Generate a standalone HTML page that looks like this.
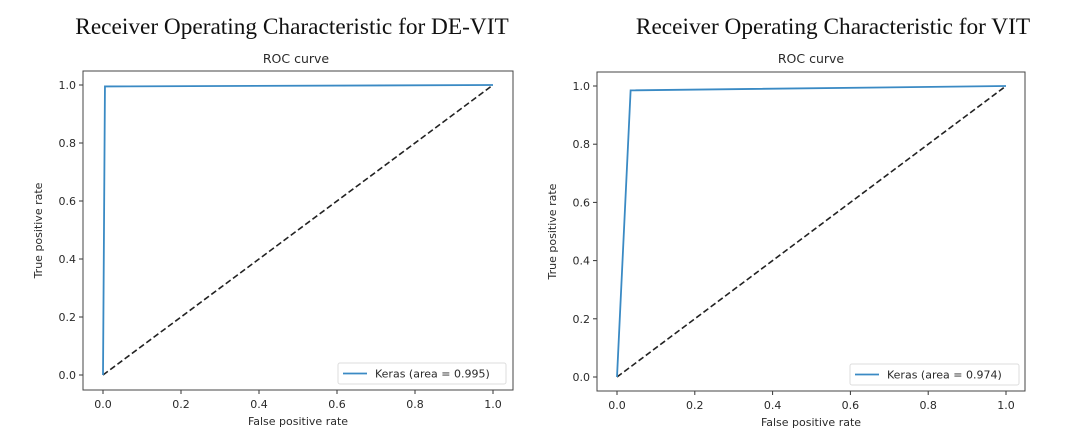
<!DOCTYPE html>
<html><head><meta charset="utf-8"><style>
body{margin:0;background:#fff;width:1080px;height:441px;overflow:hidden}
svg{display:block}
.tk{font-family:"DejaVu Sans",sans-serif;font-size:11px;fill:#2a2a2a}
.ttl{font-family:"Liberation Serif",serif;font-size:23.3px;fill:#111}
.sub{font-family:"DejaVu Sans",sans-serif;font-size:12.5px;fill:#2a2a2a}
</style></head><body>
<svg id="svg" width="1080" height="441"></svg>
<script>
const ticks=[0,0.2,0.4,0.6,0.8,1.0];
const tickLabels=["0.0","0.2","0.4","0.6","0.8","1.0"];
const deFpr=[0,0.005,1];
const deTpr=[0,0.995,1];
const vitFpr=[0,0.035,1];
const vitTpr=[0,0.985,1];
const titles=["Receiver Operating Characteristic for DE-VIT","Receiver Operating Characteristic for VIT"];
const legendLabels=["Keras (area = 0.995)","Keras (area = 0.974)"];
const NS="http://www.w3.org/2000/svg";
const svg=document.getElementById('svg');
function mk(t,a,p){const e=document.createElementNS(NS,t);for(const k in a)e.setAttribute(k,a[k]);(p||svg).appendChild(e);return e;}
const panels=[
 {fl:83,fr:513,ft:71,fb:390,x0:103,x1:493,y0:375,y1:85,tx:292,sx:296,lg:[338,363,506,384],fpr:deFpr,tpr:deTpr,name:'de-vit'},
 {fl:597,fr:1025,ft:72,fb:391,x0:617,x1:1006,y0:377,y1:86,tx:833,sx:811,lg:[850,364,1019,385],fpr:vitFpr,tpr:vitTpr,name:'vit'}];
panels.forEach((P,i)=>{
 const g=mk('g',{});
 
 
 const X=v=>P.x0+v*(P.x1-P.x0), Y=v=>P.y0+v*(P.y1-P.y0);
 let t=mk('text',{x:P.tx,y:34,'text-anchor':'middle',class:'ttl'},g);t.textContent=titles[i];
 
 t=mk('text',{x:P.sx,y:63,'text-anchor':'middle',class:'sub'},g);t.textContent='ROC curve';
 
 ticks.forEach((v,k)=>{
  mk('line',{x1:X(v),x2:X(v),y1:P.fb,y2:P.fb+4,stroke:'#333'},g);
  let a=mk('text',{x:X(v),y:P.fb+18,'text-anchor':'middle',class:'tk'},g);a.textContent=tickLabels[k];
  
  mk('line',{x1:P.fl-4,x2:P.fl,y1:Y(v),y2:Y(v),stroke:'#333'},g);
  a=mk('text',{x:P.fl-7,y:Y(v)+4,'text-anchor':'end',class:'tk'},g);a.textContent=tickLabels[k];
  
 });
 t=mk('text',{x:(P.fl+P.fr)/2,y:P.fb+35,'text-anchor':'middle',class:'tk'},g);t.textContent='False positive rate';
 
 const cy=(P.ft+P.fb)/2;
 t=mk('text',{x:P.fl-41,y:cy,'text-anchor':'middle',class:'tk',transform:`rotate(-90 ${P.fl-41} ${cy})`},g);t.textContent='True positive rate';
 
 let d=mk('line',{x1:X(0),y1:Y(0),x2:X(1),y2:Y(1),stroke:'#222','stroke-width':1.6,'stroke-dasharray':'6,3'},g);
 
 let pts=P.fpr.map((f,k)=>X(f)+','+Y(P.tpr[k])).join(' ');
 let l=mk('polyline',{points:pts,fill:'none',stroke:'#3a8ac4','stroke-width':1.8},g);
 
 let f=mk('rect',{x:P.fl,y:P.ft,width:P.fr-P.fl,height:P.fb-P.ft,fill:'none',stroke:'#444','stroke-width':1},g);
 
 const L=P.lg;
 let lb=mk('rect',{x:L[0],y:L[1],width:L[2]-L[0],height:L[3]-L[1],fill:'#fff',stroke:'#ddd',rx:2},g);
 
 mk('line',{x1:L[0]+5,x2:L[0]+29,y1:(L[1]+L[3])/2,y2:(L[1]+L[3])/2,stroke:'#3a8ac4','stroke-width':1.8},g);
 t=mk('text',{x:L[0]+37,y:(L[1]+L[3])/2+4,class:'tk'},g);t.textContent=legendLabels[i];
 
});
</script>
</body></html>
